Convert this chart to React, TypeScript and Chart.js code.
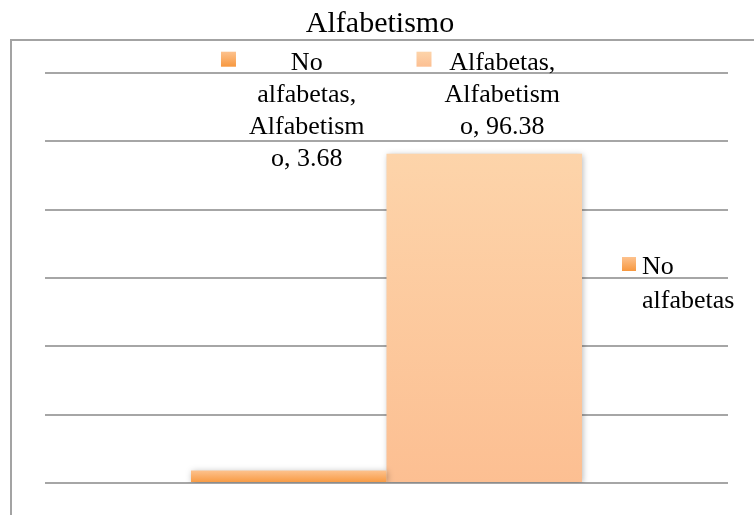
import React, { useEffect, useRef } from "react";
import { Chart, registerables } from "chart.js";

Chart.register(...registerables);

// Chart data
const chartTitle = "Alfabetismo";
const categories = ["Alfabetismo"];
const seriesNames = ["No alfabetas", "Alfabetas"];
const seriesValues = [[3.68], [96.38]];
const yMin = 0;
const yMax = 120;
const yStep = 20;

// Two-stop vertical gradients per series (top, bottom)
const seriesGradients: [string, string][] = [
  ["#fdc28e", "#f7983f"],
  ["#fdd4aa", "#fcbf92"],
];

const FONT = "'Liberation Serif', 'Times New Roman', serif";
const TEXT_COLOR = "#000000";

function wrapText(ctx: CanvasRenderingContext2D, text: string, maxW: number): string[] {
  const words = text.split(" ");
  const lines: string[] = [];
  let cur = "";
  for (const word of words) {
    const candidate = cur ? cur + " " + word : word;
    if (ctx.measureText(candidate).width <= maxW) {
      cur = candidate;
      continue;
    }
    if (cur) lines.push(cur);
    cur = "";
    // break over-long words character by character
    let rest = word;
    while (ctx.measureText(rest).width > maxW) {
      let i = 1;
      while (i < rest.length && ctx.measureText(rest.slice(0, i + 1)).width <= maxW) i++;
      lines.push(rest.slice(0, i));
      rest = rest.slice(i);
    }
    cur = rest;
  }
  if (cur) lines.push(cur);
  return lines;
}

function fillKey(ctx: CanvasRenderingContext2D, x: number, y: number, s: number, colors: [string, string]) {
  const g = ctx.createLinearGradient(0, y, 0, y + s);
  g.addColorStop(0, colors[0]);
  g.addColorStop(1, colors[1]);
  ctx.fillStyle = g;
  ctx.fillRect(x, y, s, s);
  ctx.fillStyle = TEXT_COLOR;
}

const decorPlugin = {
  id: "officeDecor",
  beforeDraw(chart: any) {
    const { ctx, width, height } = chart;
    ctx.save();
    ctx.fillStyle = "#ffffff";
    ctx.fillRect(0, 0, width, height);
    // chart frame
    ctx.strokeStyle = "#a3a3a3";
    ctx.lineWidth = 2;
    ctx.beginPath();
    ctx.moveTo(11, height);
    ctx.lineTo(11, 40);
    ctx.lineTo(width, 40);
    ctx.stroke();
    // title
    ctx.fillStyle = TEXT_COLOR;
    ctx.font = `30px ${FONT}`;
    ctx.textAlign = "center";
    ctx.textBaseline = "alphabetic";
    ctx.fillText(chartTitle, 380, 32);
    ctx.restore();
  },
  beforeDatasetsDraw(chart: any) {
    const ctx = chart.ctx;
    ctx.save();
    ctx.shadowColor = "rgba(0,0,0,0.28)";
    ctx.shadowBlur = 6;
    ctx.shadowOffsetX = 1;
    ctx.shadowOffsetY = 1;
  },
  afterDatasetsDraw(chart: any) {
    const ctx = chart.ctx;
    ctx.restore();
    ctx.save();
    ctx.font = `26px ${FONT}`;
    ctx.textBaseline = "alphabetic";
    const lineH = 32;

    // data labels: series name, category, value
    const labels = chart.data.datasets.map((ds: any, i: number) => {
      const bar = chart.getDatasetMeta(i).data[0];
      const text = `${ds.label}, ${categories[0]}, ${ds.data[0]}`;
      const lines = wrapText(ctx, text, 120);
      const maxW = Math.max(...lines.map((l) => ctx.measureText(l).width));
      return { bar, lines, maxW, i };
    });
    const firstBaseline = Math.min(
      ...labels.map((l: any) => l.bar.y - 20 - (l.lines.length - 1) * lineH)
    );
    for (const l of labels) {
      const cx = l.bar.x + 18;
      fillKey(ctx, cx - l.maxW / 2 - 28, firstBaseline - 18, 15, seriesGradients[l.i]);
      ctx.textAlign = "center";
      ctx.fillStyle = TEXT_COLOR;
      l.lines.forEach((line: string, k: number) => {
        ctx.fillText(line, cx, firstBaseline + k * lineH);
      });
    }

    // legend (box has room for the first entry only)
    const legendLines = wrapText(ctx, chart.data.datasets[0].label, 100);
    fillKey(ctx, 622, 257, 14, seriesGradients[0]);
    ctx.textAlign = "left";
    ctx.fillStyle = TEXT_COLOR;
    legendLines.forEach((line: string, k: number) => {
      ctx.fillText(line, 642, 274 + k * 34);
    });
    ctx.restore();
  },
};

export default function App() {
  const canvasRef = useRef<HTMLCanvasElement | null>(null);

  useEffect(() => {
    const canvas = canvasRef.current;
    if (!canvas) return;
    const chart = new Chart(canvas, {
      type: "bar",
      data: {
        labels: categories,
        datasets: seriesNames.map((name, i) => ({
          label: name,
          data: seriesValues[i],
          borderWidth: 0,
          backgroundColor: (c: any) => {
            const chartObj = c.chart;
            const y = chartObj.scales && chartObj.scales.y;
            if (!y || c.type !== "data") return seriesGradients[i][1];
            const top = y.getPixelForValue(c.raw);
            const base = y.getPixelForValue(0);
            if (!isFinite(top) || !isFinite(base) || top === base) return seriesGradients[i][1];
            const g = chartObj.ctx.createLinearGradient(0, top, 0, base);
            g.addColorStop(0, seriesGradients[i][0]);
            g.addColorStop(1, seriesGradients[i][1]);
            return g;
          },
        })),
      },
      options: {
        animation: false,
        responsive: false,
        devicePixelRatio: 1,
        layout: { padding: { left: 45, right: 26, top: 73, bottom: 32 } },
        datasets: {
          bar: { categoryPercentage: 0.5725, barPercentage: 1 },
        },
        plugins: {
          legend: { display: false },
          title: { display: false },
          tooltip: { enabled: false },
        },
        scales: {
          x: { display: false },
          y: {
            min: yMin,
            max: yMax,
            ticks: { display: false, stepSize: yStep },
            grid: { color: "#a6a6a6", lineWidth: 2, drawTicks: false },
            border: { display: false },
          },
        },
      },
      plugins: [decorPlugin],
    });
    return () => chart.destroy();
  }, []);

  return (
    <div style={{ position: "absolute", left: 0, top: 0, width: 754, height: 515 }}>
      <canvas ref={canvasRef} width={754} height={515} style={{ display: "block" }} />
    </div>
  );
}
